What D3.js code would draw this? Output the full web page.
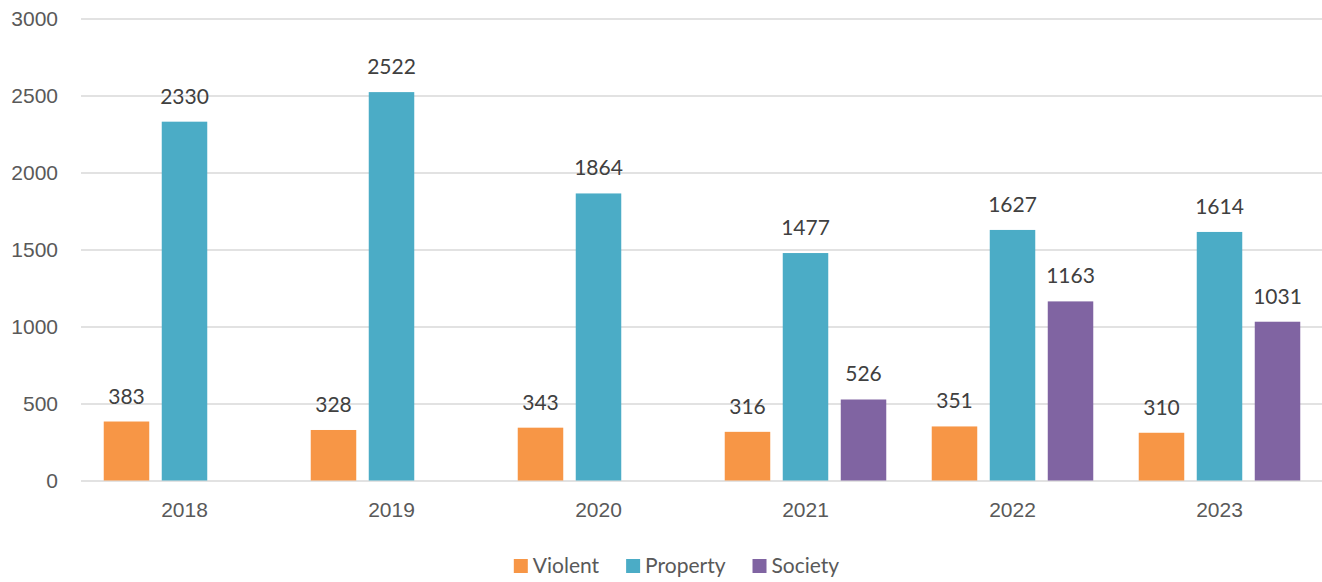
<!DOCTYPE html>
<html>
<head>
<meta charset="utf-8">
<script src="https://cdn.jsdelivr.net/npm/d3@7"></script>
<style>
  body { margin: 0; background: #fff; }
  svg { display: block; font-family: Lato, "Open Sans", sans-serif; }
</style>
</head>
<body>
<svg id="chart"></svg>
<script>
const years = ['2018', '2019', '2020', '2021', '2022', '2023'];
const seriesNames = ['Violent', 'Property', 'Society'];
const violent = [383, 328, 343, 316, 351, 310];
const property = [2330, 2522, 1864, 1477, 1627, 1614];
const society = [null, null, null, 526, 1163, 1031];
const yTicks = [0, 500, 1000, 1500, 2000, 2500, 3000];
const colors = ['#F79646', '#4BACC6', '#8064A2'];

const width = 1322, height = 582;
const margin = {top: 18.5, right: -1, bottom: 101.5, left: 81};
const innerW = width - margin.left - margin.right;
const innerH = height - margin.top - margin.bottom;
const fontSize = '21px';

const svg = d3.select('#chart').attr('width', width).attr('height', height);
const chart = svg.append('g').attr('transform', `translate(${margin.left}, ${margin.top})`);

const xscale = d3.scaleBand().domain(years).range([0, innerW]);
const sub = d3.scaleBand().domain(seriesNames).range([0, xscale.bandwidth()])
    .paddingInner(0.2155).paddingOuter(0.392);
const yscale = d3.scaleLinear().domain([0, 3000]).range([innerH, 0]);

// gridlines + y labels
const yaxis = d3.axisLeft(yscale).tickValues(yTicks).tickFormat(d3.format('d'))
    .tickSize(-innerW).tickPadding(23);
const yg = chart.append('g').call(yaxis);
yg.select('.domain').remove();
yg.selectAll('.tick line').attr('stroke', '#d9d9d9').attr('stroke-width', 1.5);
yg.selectAll('.tick text').attr('fill', '#595959').style('font-size', fontSize);

// x labels
const xaxis = d3.axisBottom(xscale).tickSize(0).tickPadding(22);
const xg = chart.append('g').attr('transform', `translate(0, ${innerH})`).call(xaxis);
xg.select('.domain').remove();
xg.selectAll('.tick text').attr('fill', '#595959').style('font-size', fontSize);

const table = [];
years.forEach((y, i) => {
    [violent, property, society].forEach((arr, k) => {
        if (arr[i] != null) table.push({year: y, series: seriesNames[k], value: arr[i], k: k});
    });
});

chart.selectAll('.bar')
    .data(table)
    .join('rect')
    .attr('class', 'bar')
    .attr('x', d => xscale(d.year) + sub(d.series))
    .attr('y', d => yscale(d.value))
    .attr('width', sub.bandwidth())
    .attr('height', d => innerH - yscale(d.value))
    .attr('fill', d => colors[d.k]);

chart.selectAll('.label')
    .data(table)
    .join('text')
    .attr('class', 'label')
    .attr('x', d => xscale(d.year) + sub(d.series) + sub.bandwidth() / 2)
    .attr('y', d => yscale(d.value) - 18)
    .attr('text-anchor', 'middle')
    .attr('fill', '#404040')
    .style('font-size', fontSize)
    .text(d => d.value);

// legend
const legend = svg.append('g').attr('transform', `translate(0, 566)`);
const items = legend.selectAll('g').data(seriesNames).join('g');
items.append('rect')
    .attr('y', -7).attr('width', 14).attr('height', 14)
    .attr('fill', (d, i) => colors[i]);
items.append('text')
    .attr('x', 19).attr('dy', '0.35em')
    .attr('fill', '#595959')
    .style('font-size', fontSize)
    .text(d => d);
let offset = 0;
const gap = 27;
const widths = [];
items.each(function () { widths.push(19 + d3.select(this).select('text').node().getComputedTextLength()); });
const total = d3.sum(widths) + gap * (widths.length - 1);
let start = 676.5 - total / 2;
items.attr('transform', (d, i) => {
    const x = start + offset;
    offset += widths[i] + gap;
    return `translate(${x}, 0)`;
});
</script>
</body>
</html>
